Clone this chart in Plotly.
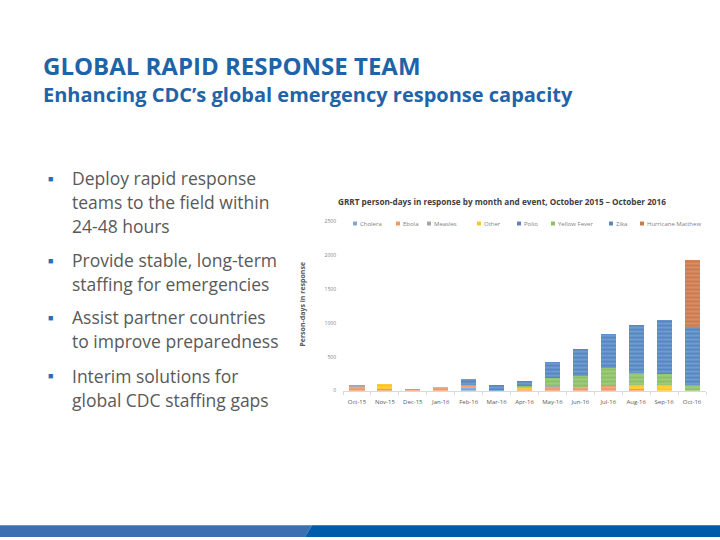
import plotly.graph_objects as go

months = ["Oct-15", "Nov-15", "Dec-15", "Jan-16", "Feb-16", "Mar-16", "Apr-16",
          "May-16", "Jun-16", "Jul-16", "Aug-16", "Sep-16", "Oct-16"]
cholera = [0, 0, 0, 0, 40, 0, 0, 0, 0, 0, 0, 0, 0]
ebola = [70, 20, 25, 50, 50, 0, 25, 50, 50, 75, 30, 0, 0]
measles = [20, 0, 5, 0, 0, 0, 0, 20, 0, 0, 0, 0, 0]
other = [0, 80, 0, 0, 0, 0, 10, 0, 0, 0, 50, 90, 0]
polio = [0, 0, 0, 0, 0, 0, 0, 0, 0, 0, 0, 0, 0]
yellow_fever = [0, 0, 0, 0, 0, 0, 35, 110, 170, 260, 185, 160, 80]
zika = [0, 0, 0, 0, 80, 85, 70, 250, 390, 500, 705, 790, 855]
hurricane_matthew = [0, 0, 0, 0, 0, 0, 0, 0, 0, 0, 0, 0, 990]

y_ticks = [0, 500, 1000, 1500, 2000, 2500]

series = [
    ("Cholera", cholera, "#7FA6D8", "#B4CCEA"),
    ("Ebola", ebola, "#EE9A66", "#F8C6A4"),
    ("Measles", measles, "#A5A5A5", "#CFCFCF"),
    ("Other", other, "#FFC425", "#FFE38A"),
    ("Polio", polio, "#5F80C2", "#9DB2DD"),
    ("Yellow Fever", yellow_fever, "#8CC066", "#C2E0A8"),
    ("Zika", zika, "#5587C3", "#A3C0E3"),
    ("Hurricane Matthew", hurricane_matthew, "#CD7A4C", "#E9B293"),
]
# left edge (px) of each legend swatch
legend_x = [353, 396, 427, 477, 517, 551, 609, 640]

fig = go.Figure()
for name, vals, col, light in series:
    fig.add_trace(go.Bar(
        x=months, y=vals, name=name, showlegend=False,
        marker=dict(color=col, line=dict(width=0),
                    pattern=dict(shape="-", fgcolor=light, bgcolor=col,
                                 size=4, solidity=0.35)),
    ))

BLUE = "#1F63A8"
GRAY = "#595959"
FONT = "Open Sans"

fig.update_layout(
    width=720, height=540, autosize=False,
    margin=dict(l=0, r=0, t=0, b=0),
    paper_bgcolor="white", plot_bgcolor="white",
    barmode="stack", bargap=0.46,
    font=dict(family=FONT, color=GRAY),
    showlegend=False,
    xaxis=dict(domain=[343 / 720, 706 / 720], showline=True, linecolor="#D9D9D9",
               linewidth=1, ticks="outside", tickson="boundaries", ticklen=3,
               tickcolor="#D9D9D9", tickfont=dict(size=6, color=GRAY),
               ticklabelstandoff=5, tickangle=0, showgrid=False, fixedrange=True),
    yaxis=dict(domain=[1 - 392 / 540, 1 - 221 / 540], range=[0, 2500],
               tickvals=y_ticks, ticktext=[str(v) for v in y_ticks],
               tickfont=dict(size=5, color="#7F7F7F"), showgrid=False,
               ticklabelstandoff=6, showline=False, zeroline=False, ticks="",
               fixedrange=True),
)

def px_x(v):
    return v / 720

def px_y(v):
    return 1 - v / 540

# Manual compact legend
for (name, vals, col, light), lx in zip(series, legend_x):
    fig.add_shape(type="rect", xref="paper", yref="paper",
                  x0=px_x(lx), x1=px_x(lx + 4), y0=px_y(225), y1=px_y(221),
                  fillcolor=col, line=dict(width=0))
    fig.add_annotation(text=name, x=px_x(lx + 5), y=px_y(223), xref="paper",
                       yref="paper", xanchor="left", yanchor="middle",
                       showarrow=False, font=dict(size=6, color="#7F7F7F"))

# Slide title and subtitle
fig.add_annotation(text="<b>GLOBAL RAPID RESPONSE TEAM</b>", x=px_x(41), y=px_y(63),
                   xref="paper", yref="paper", xanchor="left", yanchor="middle",
                   showarrow=False, font=dict(size=24, color=BLUE, family=FONT))
fig.add_annotation(text="<b>Enhancing CDC’s global emergency response capacity</b>",
                   x=px_x(41), y=px_y(93), xref="paper", yref="paper",
                   xanchor="left", yanchor="middle", showarrow=False,
                   font=dict(size=20, color=BLUE, family=FONT))

# Bullets
bullets = [
    (177, ["Deploy rapid response", "teams to the field within", "24-48 hours"]),
    (260, ["Provide stable, long-term", "staffing for emergencies"]),
    (318, ["Assist partner countries", "to improve preparedness"]),
    (377, ["Interim solutions for", "global CDC staffing gaps"]),
]
for y0, lines in bullets:
    fig.add_annotation(text="■", x=px_x(46), y=px_y(y0), xref="paper", yref="paper",
                       xanchor="left", yanchor="middle", showarrow=False,
                       font=dict(size=9, color="#2E6DB4"))
    for i, line in enumerate(lines):
        fig.add_annotation(text=line, x=px_x(70), y=px_y(y0 + 24 * i),
                           xref="paper", yref="paper", xanchor="left",
                           yanchor="middle", showarrow=False,
                           font=dict(size=17.5, color=GRAY, family=FONT))

# Chart title
fig.add_annotation(text="<b>GRRT person-days in response by month and event, October 2015 – October 2016</b>",
                   x=px_x(502), y=px_y(201), xref="paper", yref="paper",
                   xanchor="center", yanchor="middle", showarrow=False,
                   font=dict(size=8.2, color="#404040", family=FONT))
# Y-axis title
fig.add_annotation(text="<b>Person-days in response</b>", x=px_x(303), y=px_y(305),
                   xref="paper", yref="paper", xanchor="center", yanchor="middle",
                   textangle=-90, showarrow=False,
                   font=dict(size=7, color=GRAY, family=FONT))

# Bottom band
fig.add_shape(type="path", xref="paper", yref="paper",
              path=f"M 0 0 L 0 {px_y(528)} L {px_x(312)} {px_y(528)} L {px_x(305)} 0 Z",
              fillcolor="#3A70B2", line=dict(width=0), layer="above")
fig.add_shape(type="path", xref="paper", yref="paper",
              path=f"M {px_x(305)} 0 L {px_x(312)} {px_y(528)} L 1 {px_y(528)} L 1 0 Z",
              fillcolor="#005BAA", line=dict(width=0), layer="above")

fig.write_html(
    "out.html",
    config={"responsive": False, "displayModeBar": False},
    post_script="var d=document.getElementById('{plot_id}');"
                "d.style.position='fixed';d.style.left='0px';d.style.top='0px';",
)
